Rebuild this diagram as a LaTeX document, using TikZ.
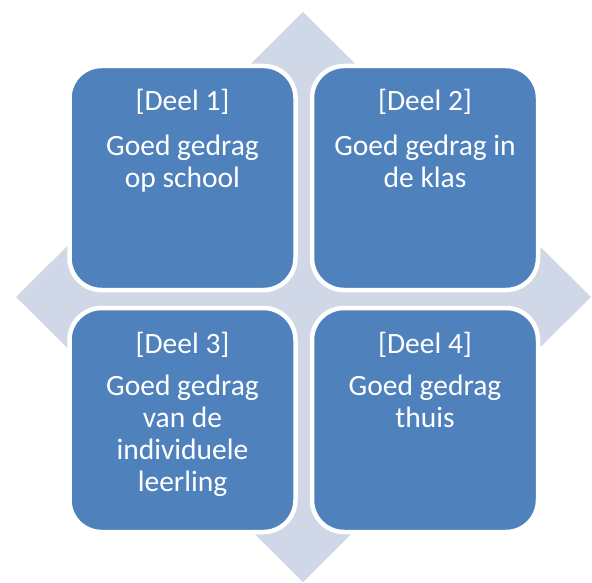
\documentclass[tikz,border=0pt]{standalone}
\usepackage{fontspec}
\setmainfont{Carlito}
\definecolor{boxblue}{HTML}{4F81BD}
\definecolor{diamondgrey}{HTML}{D0D8E8}
\tikzset{
  box/.style={draw=white, line width=4.5pt, fill=boxblue, rounded corners=32pt,
    minimum width=226pt, minimum height=224pt, inner sep=0pt},
  lbl/.style={text=white, font=\fontsize{29.5}{32}\selectfont, align=center, inner sep=0pt, anchor=base}
}
\begin{document}
\begin{tikzpicture}[x=1pt,y=-1pt]
\useasboundingbox (0,0) rectangle (592,583);
\fill[diamondgrey] (303,12) -- (591,297) -- (303,582) -- (16,297) -- cycle;
\node[box] (b1) at (182.5,178) {};
\node[box] (b2) at (425,178) {};
\node[box] (b3) at (182.5,420) {};
\node[box] (b4) at (425,420) {};
\node[lbl] (h1) at (182.5,111) {[Deel 1]};
\node[lbl] (h2) at (425,111) {[Deel 2]};
\node[lbl] (h3) at (182.5,353) {[Deel 3]};
\node[lbl] (h4) at (425,353) {[Deel 4]};
\node[lbl] (t1) at (182.5,187) {Goed gedrag\\op school};
\node[lbl] (t2) at (425,187) {Goed gedrag in\\de klas};
\node[lbl] (t3) at (182.5,491) {Goed gedrag\\van de\\individuele\\leerling};
\node[lbl] (t4) at (425,427) {Goed gedrag\\thuis};
\end{tikzpicture}
\end{document}
